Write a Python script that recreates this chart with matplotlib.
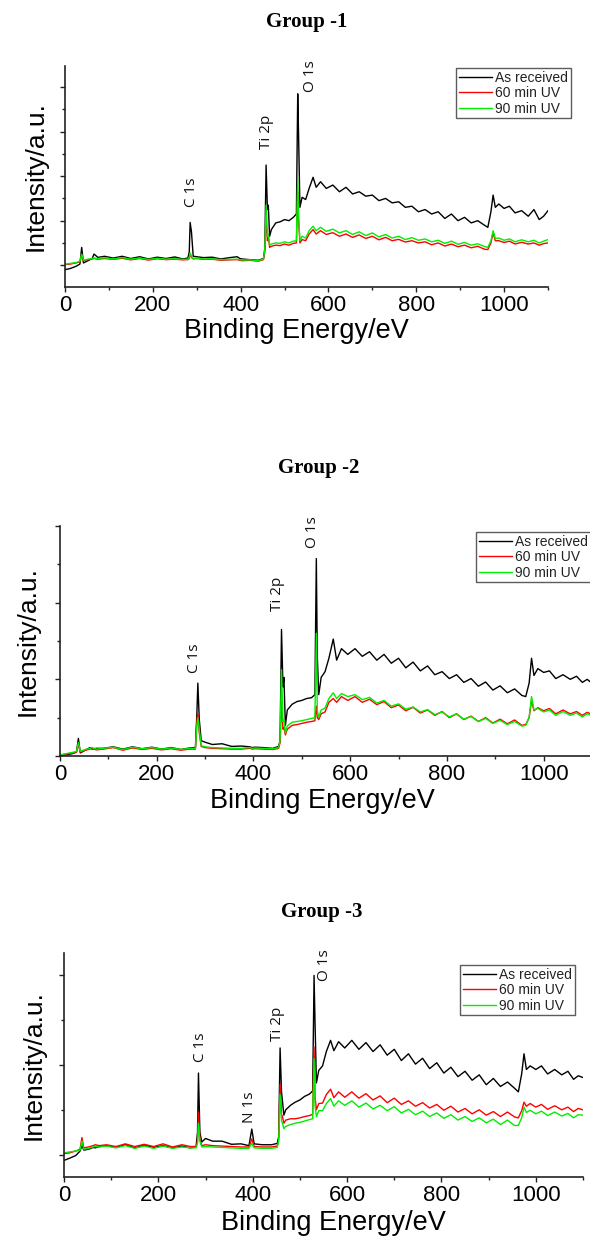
import matplotlib
matplotlib.use("Agg")
import matplotlib.pyplot as plt
from matplotlib.ticker import MultipleLocator

W, H = 590, 1246

# binding energy grid shared by all spectra (eV)
energy = [0, 12, 25, 34, 38, 42, 52, 62, 66, 75,
          90, 110, 130, 150, 170, 190, 210, 230, 250, 268,
          280, 283, 285, 288, 292, 300, 315, 335, 355, 375,
          392, 398, 403, 420, 440, 452, 455, 458, 461, 463,
          466, 470, 480, 490, 500, 510, 520, 527, 530, 532,
          535, 540, 548, 556, 565, 572, 582, 595, 610, 625,
          640, 655, 670, 685, 700, 715, 730, 745, 760, 775,
          790, 805, 820, 835, 850, 865, 880, 895, 910, 925,
          940, 955, 963, 970, 975, 980, 988, 1000, 1012, 1025,
          1040, 1055, 1068, 1080, 1090, 1100]

labels = ["As received", "60 min UV", "90 min UV"]
colors = ["#000000", "#ff0000", "#00ee00"]

# ---- Group 1 ----
g1_as = [-0.2, -0.15, -0.05, 0.05, 0.8, 0.1, 0.2, 0.3, 0.5, 0.35,
         0.4, 0.32, 0.4, 0.3, 0.38, 0.28, 0.36, 0.3, 0.37, 0.28,
         0.32, 0.6, 1.92, 1.5, 0.4, 0.38, 0.34, 0.36, 0.28, 0.34,
         0.38, 0.3, 0.28, 0.25, 0.22, 0.3, 0.75, 4.5, 2.5, 2.7,
         1.3, 1.6, 1.9, 1.95, 2.05, 2.0, 2.15, 2.3, 7.7, 5.8,
         2.6, 3.05, 2.95, 3.45, 3.95, 3.5, 3.75, 3.45, 3.6, 3.3,
         3.5, 3.2, 3.3, 3.1, 3.15, 2.9, 3.0, 2.8, 2.85, 2.6,
         2.65, 2.4, 2.5, 2.3, 2.4, 2.1, 2.3, 2.0, 2.15, 1.9,
         2.0, 1.8, 1.7, 2.4, 3.15, 2.6, 2.75, 2.55, 2.65, 2.35,
         2.45, 2.2, 2.5, 2.05, 2.2, 2.45]
g1_60 = [0.03, 0.05, 0.1, 0.15, 0.45, 0.2, 0.25, 0.28, 0.3, 0.27,
         0.3, 0.26, 0.31, 0.24, 0.3, 0.23, 0.29, 0.25, 0.27, 0.24,
         0.25, 0.3, 0.5, 0.35, 0.28, 0.3, 0.26, 0.27, 0.22, 0.24,
         0.25, 0.22, 0.2, 0.22, 0.18, 0.25, 0.6, 2.2, 1.1, 1.3,
         0.8, 0.85, 0.9, 0.88, 0.95, 0.9, 0.98, 1.0, 3.3, 2.0,
         1.0, 1.15, 1.1, 1.4, 1.6, 1.4, 1.55, 1.38, 1.46, 1.3,
         1.4, 1.25, 1.36, 1.2, 1.3, 1.14, 1.25, 1.1, 1.16, 1.04,
         1.1, 1.0, 1.05, 0.92, 1.0, 0.86, 0.95, 0.83, 0.9, 0.78,
         0.85, 0.72, 0.7, 1.0, 1.45, 1.1, 1.1, 1.02, 1.08, 0.95,
         1.03, 0.95, 1.0, 0.9, 0.97, 1.0]
g1_90 = [0.05, 0.08, 0.12, 0.18, 0.5, 0.22, 0.27, 0.3, 0.32, 0.3,
         0.33, 0.28, 0.34, 0.27, 0.32, 0.26, 0.31, 0.27, 0.29, 0.26,
         0.27, 0.35, 0.55, 0.4, 0.3, 0.32, 0.28, 0.29, 0.25, 0.26,
         0.27, 0.25, 0.23, 0.24, 0.2, 0.28, 0.7, 2.7, 1.3, 1.4,
         0.9, 0.95, 1.0, 0.98, 1.05, 1.0, 1.08, 1.1, 3.9, 2.2,
         1.1, 1.3, 1.22, 1.55, 1.75, 1.55, 1.7, 1.52, 1.62, 1.45,
         1.55, 1.38, 1.5, 1.33, 1.45, 1.27, 1.38, 1.22, 1.3, 1.15,
         1.24, 1.12, 1.18, 1.05, 1.12, 0.98, 1.08, 0.94, 1.02, 0.9,
         0.96, 0.84, 0.8, 1.1, 1.55, 1.2, 1.22, 1.12, 1.18, 1.05,
         1.14, 1.05, 1.12, 1.0, 1.08, 1.15]
g1_peak_names = ["C 1s", "Ti 2p", "O 1s"]
g1_peak_x = [288, 458, 558]
g1_peak_y = [2.6, 5.2, 7.8]

# ---- Group 2 ----
g2_as = [0.0, 0.03, 0.06, 0.1, 0.46, 0.08, 0.15, 0.22, 0.18, 0.2,
         0.2, 0.24, 0.18, 0.24, 0.19, 0.23, 0.18, 0.22, 0.17, 0.21,
         0.22, 1.1, 1.9, 0.95, 0.4, 0.36, 0.3, 0.32, 0.25, 0.26,
         0.24, 0.22, 0.23, 0.22, 0.2, 0.25, 0.4, 3.3, 1.8, 2.05,
         0.8, 1.2, 1.35, 1.42, 1.45, 1.5, 1.52, 1.6, 5.15, 2.6,
         1.6, 2.05, 2.2, 2.55, 3.05, 2.5, 2.8, 2.65, 2.8, 2.6,
         2.72, 2.5, 2.65, 2.42, 2.55, 2.3, 2.45, 2.22, 2.35, 2.12,
         2.2, 2.02, 2.12, 1.92, 2.02, 1.82, 1.93, 1.72, 1.83, 1.65,
         1.75, 1.58, 1.55, 1.9, 2.55, 2.1, 2.28, 2.18, 2.22, 2.02,
         2.12, 2.0, 2.08, 1.92, 2.0, 1.9]
g2_60 = [0.02, 0.05, 0.08, 0.1, 0.3, 0.1, 0.15, 0.18, 0.2, 0.16,
         0.18, 0.22, 0.15, 0.21, 0.17, 0.2, 0.16, 0.19, 0.15, 0.18,
         0.18, 0.9, 1.1, 0.6, 0.25, 0.22, 0.2, 0.19, 0.18, 0.18,
         0.2, 0.18, 0.19, 0.18, 0.17, 0.2, 0.35, 1.4, 0.7, 0.75,
         0.55, 0.7, 0.8, 0.82, 0.85, 0.88, 0.9, 0.92, 1.3, 1.0,
         0.95, 1.1, 1.15, 1.4, 1.5, 1.4, 1.55, 1.45, 1.55, 1.4,
         1.48, 1.34, 1.42, 1.26, 1.33, 1.18, 1.27, 1.12, 1.2, 1.06,
         1.16, 1.0, 1.1, 0.95, 1.04, 0.9, 1.0, 0.86, 0.96, 0.84,
         0.94, 0.8, 0.82, 1.0, 1.45, 1.18, 1.26, 1.18, 1.24, 1.1,
         1.2, 1.1, 1.16, 1.06, 1.14, 1.08]
g2_90 = [0.03, 0.06, 0.09, 0.12, 0.35, 0.12, 0.17, 0.2, 0.22, 0.18,
         0.2, 0.23, 0.17, 0.23, 0.19, 0.22, 0.18, 0.21, 0.17, 0.2,
         0.2, 0.8, 1.0, 0.7, 0.27, 0.24, 0.22, 0.21, 0.2, 0.2,
         0.22, 0.2, 0.21, 0.2, 0.19, 0.22, 0.4, 2.25, 0.9, 0.95,
         0.6, 0.78, 0.88, 0.9, 0.92, 0.95, 0.98, 1.0, 3.2, 1.2,
         1.0, 1.2, 1.25, 1.5, 1.65, 1.5, 1.63, 1.55, 1.6, 1.47,
         1.53, 1.38, 1.45, 1.3, 1.36, 1.22, 1.28, 1.15, 1.21, 1.08,
         1.15, 1.02, 1.1, 0.96, 1.03, 0.9, 0.98, 0.85, 0.93, 0.82,
         0.9, 0.78, 0.8, 1.0, 1.55, 1.2, 1.24, 1.15, 1.2, 1.06,
         1.16, 1.06, 1.12, 1.02, 1.1, 1.06]
g2_peak_names = ["C 1s", "Ti 2p", "O 1s"]
g2_peak_x = [278, 449, 523]
g2_peak_y = [2.16, 3.77, 5.42]

# ---- Group 3 ----
g3_as = [-0.13, -0.08, -0.02, 0.08, 0.2, 0.1, 0.12, 0.16, 0.15, 0.18,
         0.2, 0.16, 0.22, 0.15, 0.21, 0.16, 0.2, 0.15, 0.19, 0.15,
         0.18, 0.5, 1.82, 0.5, 0.28, 0.36, 0.3, 0.3, 0.23, 0.24,
         0.2, 0.57, 0.24, 0.22, 0.22, 0.25, 0.4, 2.38, 1.4, 1.2,
         0.88, 1.0, 1.1, 1.17, 1.22, 1.3, 1.35, 1.42, 4.0, 2.97,
         1.6, 1.88, 1.98, 2.3, 2.55, 2.32, 2.52, 2.38, 2.55, 2.35,
         2.5, 2.3, 2.45, 2.22, 2.35, 2.1, 2.25, 2.02, 2.15, 1.92,
         2.05, 1.82, 1.95, 1.74, 1.86, 1.66, 1.78, 1.56, 1.7, 1.52,
         1.62, 1.48, 1.4, 1.8, 2.25, 1.9, 1.98, 1.9, 1.98, 1.8,
         1.9, 1.78, 1.86, 1.68, 1.76, 1.72]
g3_60 = [0.02, 0.04, 0.08, 0.12, 0.38, 0.15, 0.17, 0.2, 0.22, 0.2,
         0.22, 0.18, 0.24, 0.18, 0.23, 0.18, 0.24, 0.17, 0.22, 0.18,
         0.18, 0.3, 0.95, 0.35, 0.2, 0.22, 0.2, 0.19, 0.18, 0.17,
         0.17, 0.35, 0.18, 0.17, 0.17, 0.19, 0.35, 1.57, 0.9, 0.85,
         0.7, 0.77, 0.8, 0.8, 0.82, 0.85, 0.87, 0.9, 2.4, 1.3,
         1.0, 1.14, 1.15, 1.34, 1.46, 1.27, 1.4, 1.28, 1.4, 1.26,
         1.36, 1.22, 1.31, 1.16, 1.26, 1.12, 1.2, 1.08, 1.16, 1.04,
         1.12, 0.99, 1.08, 0.95, 1.03, 0.91, 1.0, 0.88, 0.96, 0.85,
         0.95, 0.84, 0.82, 0.98, 1.17, 1.08, 1.14, 1.06, 1.12, 1.01,
         1.09, 1.0, 1.06, 0.96, 1.03, 1.0]
g3_90 = [0.04, 0.06, 0.08, 0.1, 0.3, 0.12, 0.14, 0.17, 0.18, 0.17,
         0.19, 0.15, 0.2, 0.14, 0.19, 0.14, 0.19, 0.14, 0.17, 0.15,
         0.15, 0.25, 0.7, 0.3, 0.17, 0.18, 0.17, 0.16, 0.15, 0.14,
         0.14, 0.25, 0.15, 0.14, 0.14, 0.16, 0.3, 1.35, 0.75, 0.7,
         0.58, 0.63, 0.67, 0.7, 0.72, 0.75, 0.78, 0.8, 2.14, 1.1,
         0.85, 0.98, 0.98, 1.14, 1.25, 1.08, 1.2, 1.1, 1.2, 1.06,
         1.15, 1.02, 1.1, 0.98, 1.07, 0.93, 1.01, 0.89, 0.97, 0.85,
         0.93, 0.81, 0.89, 0.77, 0.85, 0.74, 0.82, 0.71, 0.79, 0.67,
         0.77, 0.65, 0.65, 0.82, 1.06, 0.94, 0.99, 0.91, 0.97, 0.87,
         0.95, 0.86, 0.92, 0.82, 0.89, 0.88]
g3_peak_names = ["C 1s", "N 1s", "Ti 2p", "O 1s"]
g3_peak_x = [290, 393, 452, 553]
g3_peak_y = [2.07, 0.7, 2.54, 3.88]

# layout in pixels: axes box (left, top, right, bottom), title centre, legend corner
panels = [
    dict(title="Group -1", series=(g1_as, g1_60, g1_90),
         peaks=(g1_peak_names, g1_peak_x, g1_peak_y),
         box=(65, 66, 548, 287), ylim=(-0.98, 8.95),
         title_xy=(307, 22), legend_xy=(456, 68), ylab_x=48, xlab_xy=(296, 332)),
    dict(title="Group -2", series=(g2_as, g2_60, g2_90),
         peaks=(g2_peak_names, g2_peak_x, g2_peak_y),
         box=(60, 526, 592, 756), ylim=(0, 6),
         title_xy=(319, 468), legend_xy=(476, 532), ylab_x=40, xlab_xy=(322, 802)),
    dict(title="Group -3", series=(g3_as, g3_60, g3_90),
         peaks=(g3_peak_names, g3_peak_x, g3_peak_y),
         box=(64, 953, 583, 1177), ylim=(-0.5, 4.5),
         title_xy=(322, 912), legend_xy=(460, 965), ylab_x=46, xlab_xy=(333, 1224)),
]

fig = plt.figure(figsize=(W / 100, H / 100), dpi=100)

for p in panels:
    left, top, right, bottom = p["box"]
    ax = fig.add_axes([left / W, 1 - bottom / H, (right - left) / W, (bottom - top) / H])

    for ys, lab, col in zip(p["series"], labels, colors):
        ax.plot(energy, ys, color=col, lw=1.0, label=lab)

    for name, x, y in zip(*p["peaks"]):
        ax.text(x, y, name, rotation=90, ha="center", va="bottom",
                fontsize=11, family="Open Sans", color="#111111")

    ax.set_xlim(0, 1100)
    ax.set_ylim(*p["ylim"])
    ax.xaxis.set_major_locator(MultipleLocator(200))
    ax.xaxis.set_minor_locator(MultipleLocator(100))
    ax.yaxis.set_major_locator(MultipleLocator(2))
    ax.yaxis.set_minor_locator(MultipleLocator(1))
    ax.tick_params(which="both", direction="out", width=1, color="#222222")
    ax.tick_params(which="major", length=3.5, labelsize=16, pad=2.5)
    ax.tick_params(which="minor", length=2)
    ax.tick_params(axis="y", labelleft=False)
    for lbl in ax.get_xticklabels():
        lbl.set_family("Liberation Sans")
    for s in ("top", "right"):
        ax.spines[s].set_visible(False)
    for s in ("left", "bottom"):
        ax.spines[s].set_linewidth(1.2)
        ax.spines[s].set_color("#222222")

    ax.set_ylabel("Intensity/a.u.", fontsize=19, family="Liberation Sans")
    ax.yaxis.set_label_coords((p["ylab_x"] - left) / (right - left), 0.5)
    ax.set_xlabel("Binding Energy/eV", fontsize=19.5, family="Liberation Sans")
    xl_x, xl_y = p["xlab_xy"]
    ax.xaxis.set_label_coords((xl_x - left) / (right - left), -(xl_y - 14 - bottom) / (bottom - top))

    lx, ly = p["legend_xy"]
    leg = ax.legend(loc="upper left", bbox_to_anchor=(lx / W, 1 - ly / H),
                    bbox_transform=fig.transFigure, fontsize=10, frameon=True,
                    fancybox=False, edgecolor="#333333", borderpad=0.2,
                    labelspacing=0.1, handlelength=2.4, handletextpad=0.2,
                    borderaxespad=0)
    leg.get_frame().set_linewidth(1.0)
    for t in leg.get_texts():
        t.set_family("Liberation Sans")
        t.set_color("#222222")

    tx, ty = p["title_xy"]
    fig.text(tx / W, 1 - ty / H, p["title"], ha="center", va="center",
             fontsize=15, fontweight="bold", family="Liberation Serif")

fig.savefig("out.png", dpi=100)
